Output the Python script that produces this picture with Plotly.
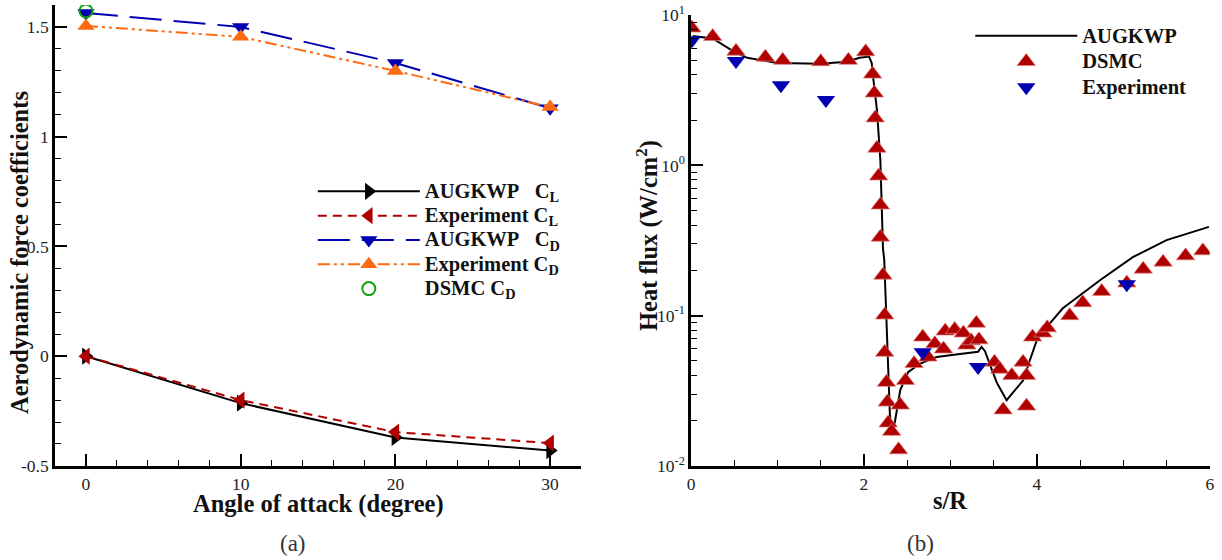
import plotly.graph_objects as go

# ---------------- Panel (a) data ----------------
angle = [0, 10, 20, 30]
augkwp_cl = [0.0, -0.214, -0.37, -0.43]
exp_cl = [0.0, -0.20, -0.346, -0.396]
augkwp_cd = [1.564, 1.50, 1.336, 1.13]
exp_cd = [1.505, 1.455, 1.30, 1.135]
dsmc_angle = [0]
dsmc_cd = [1.573]

# ---------------- Panel (b) data ----------------
aug_s = [0.02, 0.25, 0.5, 0.65, 1.0, 1.5, 1.8, 1.95, 2.06, 2.09, 2.11, 2.15, 2.19, 2.21,
         2.22, 2.235, 2.26, 2.28, 2.30, 2.32, 2.36, 2.42, 2.51, 2.65, 2.84, 3.11, 3.32,
         3.36, 3.40, 3.48, 3.54, 3.65, 3.77, 3.84, 3.92, 4.0, 4.15, 4.3, 4.73, 5.11, 5.5, 5.99]
aug_q = [7.25, 7.0, 5.7, 5.2, 4.8, 4.75, 4.9, 5.2, 5.3, 4.8, 3.7, 2.35, 1.08, 0.48,
         0.28, 0.234, 0.093, 0.037, 0.022, 0.016, 0.020, 0.032, 0.042, 0.048, 0.053, 0.0556, 0.0575,
         0.062, 0.058, 0.0436, 0.0355, 0.0274, 0.0335, 0.037, 0.0507, 0.069, 0.089, 0.112, 0.172, 0.245, 0.318, 0.39]

dsmc_s = [0.01, 0.25, 0.52, 0.86, 1.06, 1.50, 1.82, 2.02, 2.10, 2.12, 2.13, 2.15, 2.17, 2.19,
          2.19, 2.22, 2.24, 2.24, 2.26, 2.27, 2.28, 2.32, 2.40, 2.42, 2.48, 2.58, 2.68, 2.74,
          2.82, 2.92, 2.94, 3.05, 3.15, 3.19, 3.24, 3.30, 3.33, 3.51, 3.57, 3.61, 3.71, 3.84,
          3.88, 3.88, 3.95, 4.07, 4.12, 4.38, 4.53, 4.75, 5.04, 5.23, 5.46, 5.72, 5.92]
dsmc_q = [8.2, 7.2, 5.75, 5.25, 5.0, 4.9, 5.0, 5.7, 4.05, 3.03, 2.07, 1.30, 0.85, 0.545,
          0.333, 0.186, 0.101, 0.057, 0.036, 0.0266, 0.0193, 0.017, 0.0128, 0.0254, 0.037, 0.048, 0.072, 0.053,
          0.065, 0.060, 0.079, 0.081, 0.0766, 0.0637, 0.068, 0.089, 0.069, 0.049, 0.044, 0.0236, 0.040, 0.049,
          0.040, 0.025, 0.072, 0.0766, 0.083, 0.10, 0.122, 0.145, 0.165, 0.204, 0.227, 0.25, 0.27]

exp_s = [0.01, 0.52, 1.04, 1.56, 2.68, 3.32, 5.04]
exp_q = [6.8, 4.95, 3.42, 2.72, 0.057, 0.0455, 0.162]

left_yticks = [-0.5, 0, 0.5, 1, 1.5]
left_yticktext = ["-0.5", "0", "0.5", "1", "1.5"]
left_xticks = [0, 10, 20, 30]
right_xticks = [0, 2, 4, 6]
right_yticks = [0.01, 0.1, 1, 10]
right_yticktext = ["10<sup>-2</sup>", "10<sup>-1</sup>", "10<sup>0</sup>", "10<sup>1</sup>"]

SERIF = "Liberation Serif, Times New Roman, serif"
RED = "#b00000"
BLUE = "#0000b0"
ORANGE = "#ff6a10"
GREEN = "#10a010"


def big(t):
    return '<span style="font-size:20.5px">' + t + '</span>'


fig = go.Figure()

fig.add_trace(go.Scatter(x=angle, y=augkwp_cl, mode="lines+markers",
                         name=big("AUGKWP&nbsp;&nbsp;&nbsp;C<sub>L</sub>"),
                         line=dict(color="black", width=2),
                         marker=dict(symbol="triangle-right", size=15, color="black"),
                         xaxis="x", yaxis="y", legend="legend"))
fig.add_trace(go.Scatter(x=angle, y=exp_cl, mode="lines+markers", name=big("Experiment C<sub>L</sub>"),
                         line=dict(color=RED, width=2, dash="9px,6px"),
                         marker=dict(symbol="triangle-left", size=15, color=RED),
                         xaxis="x", yaxis="y", legend="legend"))
fig.add_trace(go.Scatter(x=angle, y=augkwp_cd, mode="lines+markers",
                         name=big("AUGKWP&nbsp;&nbsp;&nbsp;C<sub>D</sub>"),
                         line=dict(color=BLUE, width=2, dash="32px,12px"),
                         marker=dict(symbol="triangle-down", size=15, color=BLUE),
                         xaxis="x", yaxis="y", legend="legend"))
fig.add_trace(go.Scatter(x=angle, y=exp_cd, mode="lines+markers", name=big("Experiment C<sub>D</sub>"),
                         line=dict(color=ORANGE, width=2, dash="12px,4px,3px,4px,3px,4px"),
                         marker=dict(symbol="triangle-up", size=15, color=ORANGE),
                         xaxis="x", yaxis="y", legend="legend"))
fig.add_trace(go.Scatter(x=dsmc_angle, y=dsmc_cd, mode="markers", name=big("DSMC C<sub>D</sub>"),
                         marker=dict(symbol="circle-open", size=13, color=GREEN, line=dict(width=2, color=GREEN)),
                         xaxis="x", yaxis="y", legend="legend"))

fig.add_trace(go.Scatter(x=aug_s, y=aug_q, mode="lines", name=big("AUGKWP"),
                         line=dict(color="black", width=2),
                         xaxis="x2", yaxis="y2", legend="legend2"))
fig.add_trace(go.Scatter(x=dsmc_s, y=dsmc_q, mode="markers", name=big("DSMC"),
                         marker=dict(symbol="triangle-up", size=16, color="#b00000",
                                     line=dict(width=0.7, color="#e08080")),
                         xaxis="x2", yaxis="y2", legend="legend2"))
fig.add_trace(go.Scatter(x=exp_s, y=exp_q, mode="markers", name=big("Experiment"),
                         marker=dict(symbol="triangle-down", size=16, color=BLUE),
                         xaxis="x2", yaxis="y2", legend="legend2"))

tickfont = dict(family=SERIF, size=17.5, color="#222")
axis_common = dict(showline=True, linewidth=2.5, linecolor="black", showgrid=False, zeroline=False,
                   ticks="inside", ticklen=12, tickwidth=2, tickcolor="black", tickfont=tickfont,
                   mirror=False, automargin=False)

TITLE_FONT = dict(family=SERIF, size=24.5, color="#111")

fig.update_layout(
    width=1222, height=560, autosize=False,
    margin=dict(l=0, r=0, t=0, b=0, autoexpand=False),
    paper_bgcolor="white", plot_bgcolor="white",
    showlegend=True,
    xaxis=dict(domain=[0.045, 0.4755], range=[-2, 32], anchor="y",
               tickmode="array", tickvals=left_xticks,
               minor=dict(dtick=2, tick0=0, ticks="inside", ticklen=6, tickwidth=1.2, tickcolor="black"),
               **axis_common),
    yaxis=dict(domain=[0.168, 0.991], range=[-0.5, 1.6], anchor="x",
               tickmode="array", tickvals=left_yticks, ticktext=left_yticktext,
               minor=dict(dtick=0.1, tick0=0, ticks="inside", ticklen=6, tickwidth=1.2, tickcolor="black"),
               **axis_common),
    xaxis2=dict(domain=[0.5655, 0.990], range=[0, 6], anchor="y2",
                tickmode="array", tickvals=right_xticks,
                minor=dict(dtick=0.5, tick0=0, ticks="inside", ticklen=6, tickwidth=1.2, tickcolor="black"),
                **axis_common),
    yaxis2=dict(domain=[0.168, 0.973], type="log", range=[-2, 1], anchor="x2",
                tickmode="array", tickvals=right_yticks, ticktext=right_yticktext,
                minor=dict(tickmode="array",
                           tickvals=[k * 10.0 ** e for e in (-2, -1, 0) for k in range(2, 10)],
                           ticks="inside", ticklen=6, tickwidth=1.2, tickcolor="black"),
                **axis_common),
    legend=dict(x=0.256, y=0.689, xanchor="left", yanchor="top", bgcolor="rgba(0,0,0,0)",
                font=dict(family=SERIF, size=16.4, color="#111", weight="bold"),
                itemwidth=102, tracegroupgap=0, itemsizing="trace"),
    legend2=dict(x=0.794, y=0.968, xanchor="left", yanchor="top", bgcolor="rgba(0,0,0,0)",
                 font=dict(family=SERIF, size=17.5, color="#111", weight="bold"),
                 itemwidth=102, tracegroupgap=0, itemsizing="trace"),
    annotations=[
        dict(text="<b>Angle of attack (degree)</b>", x=318 / 1222, y=1 - 504 / 560, xref="paper", yref="paper",
             showarrow=False, font=TITLE_FONT, xanchor="center", yanchor="middle"),
        dict(text="<b>Aerodynamic force coefficients</b>", x=20 / 1222, y=1 - 253 / 560, xref="paper", yref="paper",
             showarrow=False, textangle=-90, font=TITLE_FONT, xanchor="center", yanchor="middle"),
        dict(text="<b>s/R</b>", x=950 / 1222, y=1 - 500 / 560, xref="paper", yref="paper",
             showarrow=False, font=TITLE_FONT, xanchor="center", yanchor="middle"),
        dict(text="<b>Heat flux (W/cm<sup>2</sup>)</b>", x=647 / 1222, y=1 - 236 / 560, xref="paper", yref="paper",
             showarrow=False, textangle=-90, font=TITLE_FONT, xanchor="center", yanchor="middle"),
        dict(text="(a)", x=293 / 1222, y=1 - 543 / 560, xref="paper", yref="paper",
             showarrow=False, font=dict(family=SERIF, size=23, color="#333"), xanchor="center", yanchor="middle"),
        dict(text="(b)", x=920 / 1222, y=1 - 543 / 560, xref="paper", yref="paper",
             showarrow=False, font=dict(family=SERIF, size=23, color="#333"), xanchor="center", yanchor="middle"),
    ],
)

fig.write_html("out.html")
